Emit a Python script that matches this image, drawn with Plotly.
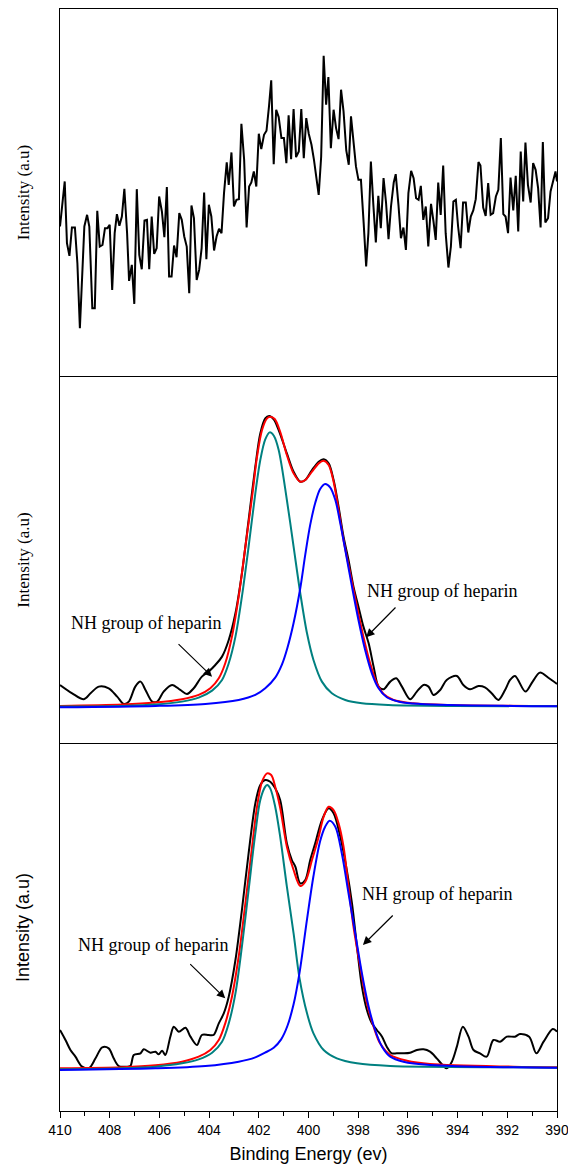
import plotly.graph_objects as go

# ---------------- Panel A (top): raw noisy survey of N1s region ----------------
be_a = [410.00,409.81,409.72,409.62,409.52,409.40,409.30,409.20,409.02,408.91,
        408.82,408.70,408.60,408.50,408.40,408.29,408.19,408.09,408.00,407.90,
        407.80,407.71,407.61,407.51,407.41,407.30,407.22,407.11,407.01,406.91,
        406.81,406.71,406.60,406.50,406.41,406.31,406.21,406.11,406.01,405.90,
        405.80,405.70,405.61,405.51,405.41,405.31,405.20,405.10,405.00,404.90,
        404.80,404.71,404.61,404.50,404.40,404.30,404.20,404.11,404.01,403.91,
        403.80,403.70,403.60,403.50,403.40,403.29,403.21,403.10,403.00,402.90,
        402.80,402.70,402.59,402.49,402.39,402.30,402.20,402.10,402.00,401.90,
        401.79,401.69,401.59,401.50,401.40,401.30,401.20,401.09,400.99,400.89,
        400.80,400.70,400.60,400.50,400.39,400.29,400.19,400.09,399.99,399.88,
        399.78,399.69,399.59,399.49,399.39,399.29,399.20,399.10,398.99,398.89,
        398.79,398.69,398.59,398.48,398.38,398.29,398.19,398.09,397.99,397.89,
        397.78,397.68,397.59,397.49,397.39,397.29,397.19,397.09,396.98,396.88,
        396.78,396.68,396.57,396.49,396.38,396.28,396.18,396.08,395.98,395.87,
        395.77,395.67,395.57,395.48,395.38,395.28,395.18,395.07,394.97,394.88,
        394.78,394.68,394.58,394.48,394.37,394.27,394.17,394.07,393.98,393.88,
        393.78,393.67,393.57,393.47,393.37,393.27,393.16,393.08,392.97,392.87,
        392.77,392.67,392.57,392.46,392.36,392.26,392.16,392.07,391.97,391.87,
        391.76,391.66,391.56,391.46,391.36,391.27,391.17,391.06,390.96,390.86,
        390.76,390.66,390.57,390.47,390.36,390.26,390.16,390.06,390.00]
int_a = [1320,1455,1270,1232,1317,1317,1210,1015,1320,1355,
         1320,1075,1075,1367,1260,1265,1315,1315,1325,1130,
         1300,1357,1322,1350,1433,1300,1157,1205,1088,1432,
         1235,1192,1338,1340,1192,1350,1238,1255,1410,1365,
         1288,1438,1170,1170,1263,1228,1360,1340,1290,1260,
         1120,1383,1345,1160,1190,1255,1422,1222,1385,1350,
         1248,1290,1313,1300,1420,1512,1445,1542,1380,1400,
         1402,1628,1520,1317,1440,1452,1485,1440,1598,1552,
         1595,1607,1680,1758,1507,1670,1648,1585,1585,1510,
         1653,1522,1672,1528,1545,1672,1525,1645,1598,1565,
         1520,1470,1415,1530,1832,1685,1768,1555,1670,1615,
         1582,1730,1665,1548,1505,1650,1570,1500,1460,1460,
         1330,1200,1300,1515,1385,1272,1412,1315,1465,1392,
         1282,1380,1452,1477,1385,1285,1317,1250,1420,1487,
         1465,1405,1400,1442,1340,1380,1260,1388,1335,1280,
         1452,1355,1503,1300,1197,1260,1395,1400,1320,1255,
         1392,1392,1302,1350,1368,1402,1513,1503,1377,1352,
         1450,1355,1360,1410,1430,1585,1357,1350,1300,1467,
         1368,1472,1305,1545,1395,1572,1445,1392,1510,1490,
         1435,1317,1573,1332,1345,1425,1455,1485,1455]

# ---------------- Panel B (middle): measured + fit ----------------
be_b_raw = [410.00,409.51,409.04,408.77,408.44,408.04,407.70,407.43,407.23,406.97,
            406.76,406.56,406.29,406.09,405.83,405.49,405.16,404.89,404.62,404.29,
            404.02,403.75,403.48,403.21,402.94,402.68,402.41,402.14,401.94,401.74,
            401.58,401.40,401.20,400.87,400.60,400.33,400.13,399.86,399.59,399.39,
            399.19,398.99,398.79,398.59,398.39,398.19,397.99,397.79,397.58,397.38,
            397.18,396.98,396.71,396.47,396.24,395.91,395.64,395.37,395.17,394.97,
            394.70,394.44,394.03,393.77,393.50,393.16,392.90,392.63,392.36,392.09,
            391.89,391.69,391.27,390.98,390.69,390.32,390.00]
int_b_raw = [174,149,131,149,169,164,139,117,124,169,
             184,159,124,124,154,174,159,147,164,199,
             214,234,259,309,389,509,669,829,929,974,
             981,971,939,869,814,784,789,819,844,851,
             839,789,709,619,549,469,409,349,299,229,
             169,161,184,194,169,131,154,174,169,144,
             159,189,201,174,161,171,167,149,129,159,
             189,201,154,184,211,194,177]

be_b_fit = [410.00,407.50,406.16,405.09,404.42,403.95,403.61,403.35,403.08,402.81,
            402.54,402.27,402.07,401.87,401.67,401.54,401.36,401.14,400.87,400.60,
            400.33,400.13,399.86,399.59,399.39,399.19,398.99,398.79,398.59,398.32,
            398.05,397.79,397.52,397.25,396.98,396.58,395.78,394.44,390.00]
int_b_fit = [111,115,121,131,144,164,194,239,319,439,
             589,739,859,939,974,979,972,934,864,809,
             784,789,814,839,847,834,784,699,609,509,
             409,319,239,179,147,129,119,114,111]

be_b_p1 = [410.00,407.50,406.16,405.09,404.42,403.88,403.48,403.21,402.94,402.68,
           402.41,402.14,401.94,401.74,401.56,401.39,401.20,400.87,400.60,400.33,
           400.06,399.80,399.46,399.06,398.52,397.85,396.78,394.10,390.00]
int_b_p1 = [109,111,115,124,136,157,189,239,319,439,
            589,749,849,911,932,921,879,729,589,449,
            329,249,184,149,129,119,114,111,110]

be_b_p2 = [410.00,406.16,404.15,402.81,402.14,401.74,401.34,401.07,400.85,400.60,
           400.33,400.13,399.93,399.73,399.53,399.33,399.13,398.92,398.72,398.52,
           398.25,397.99,397.72,397.45,397.18,396.85,396.31,395.51,391.76,390.00]
int_b_p2 = [107,111,117,129,144,164,196,235,285,360,
            465,565,655,720,762,777,767,729,659,579,
            469,369,279,209,164,137,123,117,111,110]

# ---------------- Panel C (bottom): measured + fit ----------------
be_c_raw = [410.00,409.78,409.58,409.38,409.11,408.84,408.57,408.30,408.04,407.84,
            407.64,407.37,407.17,407.03,406.76,406.63,406.36,406.16,406.03,405.89,
            405.76,405.56,405.42,405.22,404.95,404.75,404.49,404.29,404.02,403.82,
            403.61,403.41,403.21,402.94,402.68,402.41,402.14,401.94,401.74,401.54,
            401.34,401.14,400.87,400.67,400.53,400.33,400.13,399.93,399.73,399.46,
            399.19,398.99,398.72,398.46,398.25,398.05,397.85,397.65,397.45,397.25,
            397.04,396.85,396.65,396.45,396.18,395.91,395.64,395.37,395.11,394.84,
            394.57,394.44,394.23,394.03,393.79,393.56,393.36,393.10,392.83,392.56,
            392.29,392.02,391.69,391.49,391.12,390.83,390.54,390.17,390.00]
int_c_raw = [243,213,183,163,133,128,158,191,188,158,
             135,133,135,168,173,185,175,178,170,181,
             168,223,253,238,250,223,198,228,228,228,
             263,293,343,453,603,773,923,978,993,988,
             968,933,803,753,733,683,693,753,803,873,
             908,893,823,723,623,493,373,303,263,243,
             223,193,173,173,173,175,183,185,178,158,
             135,128,148,193,253,223,183,173,163,213,
             208,223,223,231,223,173,208,246,238]

be_c_fit = [410.00,407.50,406.16,405.09,404.42,403.95,403.61,403.35,403.08,402.81,
            402.54,402.27,402.07,401.87,401.67,401.50,401.34,401.14,400.87,400.60,
            400.33,400.13,399.86,399.59,399.39,399.19,398.99,398.79,398.59,398.39,
            398.19,397.92,397.65,397.38,397.12,396.71,396.04,395.11,391.76,390.00]
int_c_fit = [128,131,137,148,163,183,213,263,343,463,
             623,793,913,988,1013,1008,973,910,793,723,
             675,688,753,823,883,913,903,863,793,673,
             553,433,323,253,203,168,151,141,133,131]

be_c_p1 = [410.00,407.50,406.16,405.09,404.42,403.88,403.48,403.21,402.94,402.68,
           402.41,402.14,401.94,401.74,401.66,401.54,401.34,401.14,400.87,400.60,
           400.36,400.06,399.80,399.39,398.86,398.05,396.71,391.76,390.00]
int_c_p1 = [125,128,133,143,155,175,208,263,353,493,
            663,833,933,973,978,968,913,823,673,533,
            398,293,233,183,158,143,135,131,130]

be_c_p2 = [410.00,406.16,404.15,402.81,402.14,401.75,401.40,401.10,400.85,400.60,
           400.36,400.06,399.80,399.53,399.33,399.15,398.92,398.66,398.39,398.12,
           397.85,397.58,397.32,397.04,396.71,396.18,395.11,391.76,390.00]
int_c_p2 = [123,128,135,148,161,175,190,215,255,320,
            415,575,705,810,853,871,853,773,653,533,
            413,313,243,193,163,148,138,131,130]

x_ticks = [410, 408, 406, 404, 402, 400, 398, 396, 394, 392, 390]
label_text = "NH group of heparin"

BLACK = "#000000"
RED = "#ff0000"
TEAL = "#008080"
BLUE = "#0000ff"
SERIF = "Liberation Serif, Times New Roman, serif"
SANS = "Liberation Sans, Arial, sans-serif"

fig = go.Figure()


def add_line(x, y, color, ax, ay, spline=True, width=2.0):
    fig.add_trace(go.Scatter(
        x=x, y=y, mode="lines", xaxis=ax, yaxis=ay, showlegend=False,
        hoverinfo="skip",
        line=dict(color=color, width=width,
                  shape="spline" if spline else "linear",
                  smoothing=0.9 if spline else None)))


# panel A
add_line(be_a, int_a, BLACK, "x3", "y3", spline=False, width=2.0)
# panel B
add_line(be_b_raw, int_b_raw, BLACK, "x2", "y2")
add_line(be_b_fit, int_b_fit, RED, "x2", "y2")
add_line(be_b_p1, int_b_p1, TEAL, "x2", "y2")
add_line(be_b_p2, int_b_p2, BLUE, "x2", "y2")
# panel C
add_line(be_c_raw, int_c_raw, BLACK, "x", "y")
add_line(be_c_fit, int_c_fit, RED, "x", "y")
add_line(be_c_p1, int_c_p1, TEAL, "x", "y")
add_line(be_c_p2, int_c_p2, BLUE, "x", "y")

XR = [410, 390]
box = dict(showline=True, linecolor="black", linewidth=1.3, mirror=True,
           showgrid=False, zeroline=False, automargin=False)

xaxis_c = dict(box, range=XR, anchor="y", domain=[0, 1],
               ticks="outside", ticklen=6, tickwidth=1.2, tickcolor="black",
               tickmode="array", tickvals=x_ticks, ticktext=[str(v) for v in x_ticks],
               ticklabeloverflow="allow",
               minor=dict(dtick=1, ticks="outside", ticklen=3.5, tickwidth=1.2,
                          tickcolor="black"),
               tickfont=dict(family=SANS, size=14, color="black"),
               title=dict(text="Binding Energy (ev)", standoff=10,
                          font=dict(family=SANS, size=18, color="black")))
xaxis_b = dict(box, range=XR, anchor="y2", domain=[0, 1], ticks="", showticklabels=False)
xaxis_a = dict(box, range=XR, anchor="y3", domain=[0, 1], ticks="", showticklabels=False)

top_ticks = dict(range=XR, side="top", ticks="inside", ticklen=6, tickwidth=1.2,
                 tickcolor="black", dtick=2, tick0=390, showticklabels=False,
                 showline=False, showgrid=False, zeroline=False, automargin=False,
                 minor=dict(dtick=1, ticks="inside", ticklen=4, tickwidth=1.2,
                            tickcolor="black"))
xaxis_b_top = dict(top_ticks, overlaying="x2", anchor="y2")
xaxis_c_top = dict(top_ticks, overlaying="x", anchor="y")

ybase = dict(box, ticks="", showticklabels=False)
yaxis_c = dict(ybase, domain=[0, 0.333], range=[0, 1101],
               title=dict(text="Intensity (a.u)", standoff=24,
                          font=dict(family=SANS, size=18, color="black")))
yaxis_b = dict(ybase, domain=[0.334, 0.666], range=[0, 1098],
               title=dict(text="Intensity (a.u)", standoff=24,
                          font=dict(family=SERIF, size=17, color="black")))
yaxis_a = dict(ybase, domain=[0.667, 1.0], range=[872, 1972],
               title=dict(text="Intensity (a.u)", standoff=24,
                          font=dict(family=SERIF, size=17, color="black")))

# annotation positions (data coordinates)
texts = [("x2", "y2", 406.52, 360), ("x2", "y2", 394.62, 456),
         ("x", "y", 406.26, 498), ("x", "y", 394.81, 651)]
arrows = [("x2", "y2", 403.88, 199, 405.29, 301), ("x2", "y2", 397.68, 317, 396.44, 411),
          ("x", "y", 403.35, 338, 404.82, 445), ("x", "y", 397.81, 498, 396.55, 591)]

annotations = []
for xr_, yr_, xx, yy in texts:
    annotations.append(dict(x=xx, y=yy, xref=xr_, yref=yr_, text=label_text,
                            showarrow=False, xanchor="center", yanchor="middle",
                            font=dict(family=SERIF, size=18, color="black")))
for xr_, yr_, hx, hy, tx, ty in arrows:
    annotations.append(dict(x=hx, y=hy, xref=xr_, yref=yr_, ax=tx, ay=ty,
                            axref=xr_, ayref=yr_, text="", showarrow=True,
                            arrowhead=2, arrowsize=1.4, arrowwidth=1.2,
                            arrowcolor="black", standoff=0, startstandoff=0))

fig.update_layout(
    width=568, height=1169,
    margin=dict(l=60, r=11, t=9, b=58, autoexpand=False),
    paper_bgcolor="white", plot_bgcolor="white",
    font=dict(family=SANS, color="black"),
    xaxis=xaxis_c, xaxis2=xaxis_b, xaxis3=xaxis_a,
    xaxis4=xaxis_b_top, xaxis5=xaxis_c_top,
    yaxis=yaxis_c, yaxis2=yaxis_b, yaxis3=yaxis_a,
    annotations=annotations,
    showlegend=False,
)

fig.write_html("out.html")
